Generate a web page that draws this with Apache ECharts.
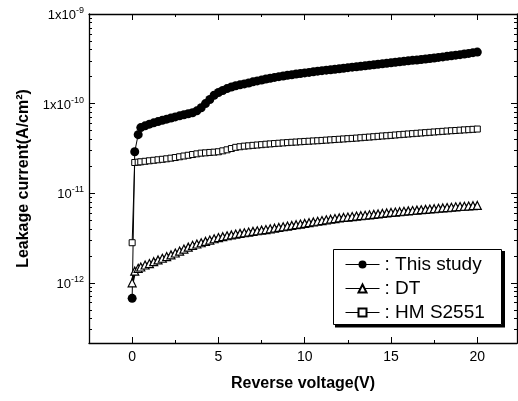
<!DOCTYPE html>
<html>
<head>
<meta charset="utf-8">
<script src="https://cdn.jsdelivr.net/npm/echarts@6/dist/echarts.min.js"></script>
<style>
  html, body { margin: 0; background: #fff; }
  #chart { width: 518px; height: 401px; }
</style>
</head>
<body>
<div id="chart"></div>
<script>
// reverse voltage (V)
const voltage = [0, 0.15, 0.35, 0.5,
  0.75, 1, 1.25, 1.5, 1.75, 2, 2.25, 2.5, 2.75, 3, 3.25, 3.5, 3.75, 4, 4.25, 4.5, 4.75, 5,
  5.25, 5.5, 5.75, 6, 6.25, 6.5, 6.75, 7, 7.25, 7.5, 7.75, 8, 8.25, 8.5, 8.75, 9, 9.25, 9.5, 9.75, 10,
  10.25, 10.5, 10.75, 11, 11.25, 11.5, 11.75, 12, 12.25, 12.5, 12.75, 13, 13.25, 13.5, 13.75, 14, 14.25, 14.5, 14.75, 15,
  15.25, 15.5, 15.75, 16, 16.25, 16.5, 16.75, 17, 17.25, 17.5, 17.75, 18, 18.25, 18.5, 18.75, 19, 19.25, 19.5, 19.75, 20];

// leakage current (A/cm2)
const thisStudy = [6.7e-13, 2.9e-11, 4.5e-11, 5.4e-11,
  5.65e-11, 5.9e-11, 6.1e-11, 6.3e-11, 6.5e-11, 6.7e-11, 6.9e-11, 7.1e-11, 7.3e-11, 7.5e-11, 7.7e-11, 7.9e-11, 8.3e-11, 9.0e-11, 1.0e-10, 1.11e-10, 1.24e-10, 1.33e-10,
  1.40e-10, 1.47e-10, 1.53e-10, 1.58e-10, 1.62e-10, 1.66e-10, 1.70e-10, 1.75e-10, 1.79e-10, 1.83e-10, 1.88e-10, 1.92e-10, 1.96e-10, 2.00e-10, 2.03e-10, 2.07e-10, 2.10e-10, 2.14e-10, 2.17e-10, 2.20e-10,
  2.23e-10, 2.26e-10, 2.30e-10, 2.33e-10, 2.36e-10, 2.39e-10, 2.42e-10, 2.45e-10, 2.48e-10, 2.52e-10, 2.55e-10, 2.58e-10, 2.61e-10, 2.64e-10, 2.68e-10, 2.71e-10, 2.75e-10, 2.78e-10, 2.82e-10, 2.86e-10,
  2.89e-10, 2.93e-10, 2.96e-10, 3.00e-10, 3.04e-10, 3.07e-10, 3.11e-10, 3.15e-10, 3.19e-10, 3.23e-10, 3.28e-10, 3.32e-10, 3.37e-10, 3.42e-10, 3.47e-10, 3.52e-10, 3.58e-10, 3.63e-10, 3.70e-10, 3.76e-10];

const dt = [1.0e-12, 1.35e-12, 1.45e-12, 1.5e-12,
  1.58e-12, 1.64e-12, 1.72e-12, 1.8e-12, 1.88e-12, 1.96e-12, 2.05e-12, 2.15e-12, 2.26e-12, 2.38e-12, 2.5e-12, 2.62e-12, 2.71e-12, 2.8e-12, 2.9e-12, 3.0e-12, 3.1e-12, 3.2e-12,
  3.27e-12, 3.35e-12, 3.42e-12, 3.5e-12, 3.56e-12, 3.62e-12, 3.68e-12, 3.75e-12, 3.81e-12, 3.87e-12, 3.93e-12, 4.0e-12, 4.07e-12, 4.15e-12, 4.22e-12, 4.3e-12, 4.37e-12, 4.45e-12, 4.52e-12, 4.6e-12,
  4.69e-12, 4.78e-12, 4.86e-12, 4.95e-12, 5.04e-12, 5.13e-12, 5.21e-12, 5.3e-12, 5.36e-12, 5.42e-12, 5.49e-12, 5.55e-12, 5.61e-12, 5.67e-12, 5.74e-12, 5.8e-12, 5.87e-12, 5.95e-12, 6.02e-12, 6.1e-12,
  6.16e-12, 6.22e-12, 6.29e-12, 6.35e-12, 6.41e-12, 6.47e-12, 6.54e-12, 6.6e-12, 6.66e-12, 6.72e-12, 6.79e-12, 6.85e-12, 6.91e-12, 6.97e-12, 7.04e-12, 7.1e-12, 7.15e-12, 7.2e-12, 7.25e-12, 7.3e-12];

const hms2551 = [2.8e-12, 2.2e-11, 2.22e-11, 2.24e-11,
  2.27e-11, 2.3e-11, 2.33e-11, 2.36e-11, 2.39e-11, 2.42e-11, 2.46e-11, 2.5e-11, 2.55e-11, 2.6e-11, 2.65e-11, 2.7e-11, 2.75e-11, 2.8e-11, 2.82e-11, 2.85e-11, 2.87e-11, 2.9e-11,
  2.97e-11, 3.05e-11, 3.15e-11, 3.25e-11, 3.3e-11, 3.35e-11, 3.38e-11, 3.42e-11, 3.45e-11, 3.48e-11, 3.52e-11, 3.55e-11, 3.58e-11, 3.61e-11, 3.64e-11, 3.67e-11, 3.7e-11, 3.72e-11, 3.75e-11, 3.78e-11,
  3.8e-11, 3.83e-11, 3.85e-11, 3.88e-11, 3.91e-11, 3.94e-11, 3.97e-11, 4.0e-11, 4.03e-11, 4.06e-11, 4.09e-11, 4.12e-11, 4.16e-11, 4.2e-11, 4.23e-11, 4.27e-11, 4.31e-11, 4.35e-11, 4.38e-11, 4.42e-11,
  4.46e-11, 4.5e-11, 4.54e-11, 4.58e-11, 4.62e-11, 4.66e-11, 4.7e-11, 4.74e-11, 4.78e-11, 4.82e-11, 4.86e-11, 4.9e-11, 4.94e-11, 4.98e-11, 5.01e-11, 5.05e-11, 5.09e-11, 5.12e-11, 5.16e-11, 5.2e-11];

const xLabelValues = [0, 5, 10, 15, 20];
const xMinorTicks = [-2.5, 2.5, 7.5, 12.5, 17.5];
const yDecades = [-12, -11, -10, -9];          // log10 of current
const yLabelBase = ['10', '10', '1x10', '1x10'];
const yLabelExp = ['-12', '-11', '-10', '-9'];

const X_MIN = -2.5, X_MAX = 22.3;
const Y_MIN = -12.672, Y_MAX = -9;

// minor ticks of the log axis (2..9 x 10^n)
const yMinorTicks = [];
[-13, -12, -11, -10].forEach(n => {
  for (let k = 2; k <= 9; k++) {
    const t = n + Math.log10(k);
    if (t > Y_MIN && t < Y_MAX) yMinorTicks.push(t);
  }
});

const toLog = arr => voltage.map((v, i) => [v, Math.log10(arr[i])]);

const FONT = 'Liberation Sans, Arial, sans-serif';
const black = '#000';

const chart = echarts.init(document.getElementById('chart'));

const frameX = (position, ticks, len, showLine) => ({
  type: 'value', min: X_MIN, max: X_MAX, position,
  axisLine: { show: showLine, onZero: false, lineStyle: { color: black, width: 1.3 } },
  axisTick: { show: true, inside: true, length: len, customValues: ticks, lineStyle: { color: black } },
  axisLabel: { show: false },
  splitLine: { show: false }
});
const frameY = (position, ticks, len, showLine) => ({
  type: 'value', min: Y_MIN, max: Y_MAX, position,
  axisLine: { show: showLine, onZero: false, lineStyle: { color: black, width: 1.3 } },
  axisTick: { show: true, inside: true, length: len, customValues: ticks, lineStyle: { color: black } },
  axisLabel: { show: false },
  splitLine: { show: false }
});

const mainX = frameX('bottom', xLabelValues, 6, true);
mainX.axisLabel = {
  show: true, customValues: xLabelValues, margin: 7,
  color: black, fontSize: 14, fontFamily: FONT
};
mainX.name = 'Reverse voltage(V)';
mainX.nameLocation = 'middle';
mainX.nameGap = 33;
mainX.nameTextStyle = { color: black, fontSize: 16, fontWeight: 'bold', fontFamily: FONT };

const mainY = frameY('left', yDecades, 6, true);
mainY.axisLabel = {
  show: true, customValues: yDecades, margin: 5,
  formatter: v => {
    const i = yDecades.indexOf(Math.round(v));
    return '{b|' + yLabelBase[i] + '}{s|' + yLabelExp[i] + '}';
  },
  rich: {
    b: { color: black, fontSize: 13, fontFamily: FONT, lineHeight: 16, verticalAlign: 'bottom' },
    s: { color: black, fontSize: 9, fontFamily: FONT, lineHeight: 16, verticalAlign: 'top' }
  }
};
mainY.name = 'Leakage current(A/cm²)';
mainY.nameLocation = 'middle';
mainY.nameGap = 26;
mainY.nameTextStyle = { color: black, fontSize: 16, fontWeight: 'bold', fontFamily: FONT };

const option = {
  backgroundColor: '#fff',
  animation: false,
  grid: { left: 89, right: 1, top: 14, bottom: 58 },
  // legend frame, with the heavy drop-shadow edge on the right and bottom
  graphic: [
    { type: 'rect', z: 3, shape: { x: 333.5, y: 249.5, width: 168, height: 75 }, style: { fill: '#fff', stroke: black, lineWidth: 1 } },
    { type: 'polyline', z: 4, shape: { points: [[335, 326], [503.5, 326], [503.5, 251]] }, style: { fill: null, stroke: black, lineWidth: 3 } }
  ],
  legend: {
    orient: 'vertical',
    left: 333, top: 249,
    padding: [6, 6, 4, 12],
    itemGap: 5,
    itemWidth: 34,
    itemHeight: 10,
    z: 5,
    lineStyle: { width: 1 },
    formatter: name => ': ' + name,
    textStyle: { color: black, fontSize: 19, fontFamily: FONT, lineHeight: 19 },
    data: ['This study', 'DT', 'HM S2551']
  },
  xAxis: [
    mainX,
    frameX('bottom', xMinorTicks, 3, false),
    frameX('top', xLabelValues, 6, true),
    frameX('top', xMinorTicks, 3, false)
  ],
  yAxis: [
    mainY,
    frameY('left', yMinorTicks, 3, false),
    frameY('right', yDecades, 6, true),
    frameY('right', yMinorTicks, 3, false)
  ],
  series: [
    {
      name: 'HM S2551', type: 'line', data: toLog(hms2551),
      symbol: 'rect', symbolSize: 6,
      itemStyle: { color: '#fff', borderColor: black, borderWidth: 1 },
      lineStyle: { color: black, width: 1 }
    },
    {
      name: 'DT', type: 'line', data: toLog(dt),
      symbol: 'triangle', symbolSize: 8,
      itemStyle: { color: '#fff', borderColor: black, borderWidth: 1.2 },
      lineStyle: { color: black, width: 3 }
    },
    {
      name: 'This study', type: 'line', data: toLog(thisStudy),
      symbol: 'circle', symbolSize: 9,
      itemStyle: { color: black },
      lineStyle: { color: black, width: 1 }
    }
  ]
};

chart.setOption(option);
</script>
</body>
</html>
